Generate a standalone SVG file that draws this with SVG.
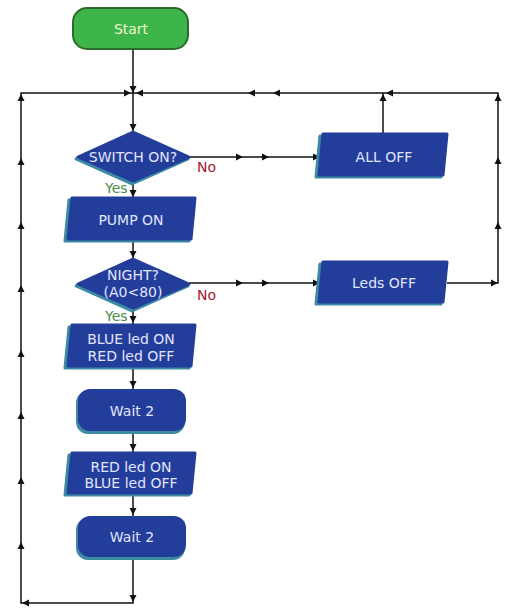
<svg xmlns="http://www.w3.org/2000/svg" xmlns:xlink="http://www.w3.org/1999/xlink" width="516" height="615" viewBox="0 0 516 615">
<style>
.ln{stroke:#111;stroke-width:1.5;fill:none}
.bx{fill:#233e9a;stroke:#233e9a;stroke-width:3;stroke-linejoin:round}
.ed{fill:#3d8aa3;stroke:#3d8aa3;stroke-width:3;stroke-linejoin:round}
.tx{font-family:"DejaVu Sans",Verdana,sans-serif;font-size:14px;fill:#e2e4ff;text-anchor:middle}
.yes{font-family:"DejaVu Sans",Verdana,sans-serif;font-size:14px;fill:#4f8a4a}
.no{font-family:"DejaVu Sans",Verdana,sans-serif;font-size:14px;fill:#a3172f}
</style>
<defs>
<path id="ah" d="M0,0 L-7,-3.5 L-7,3.5 Z" fill="#111"/>
</defs>
<rect width="516" height="615" fill="#fff"/>
<g id="connectors">
<path class="ln" d="M133,50 V603 H21 V93 H498 V283 H447"/>
<path class="ln" d="M189,157 H318 M189,283 H318 M383,133 V93"/>
<!-- main down arrows -->
<use xlink:href="#ah" transform="translate(133,93) rotate(90)"/>
<use xlink:href="#ah" transform="translate(133,131) rotate(90)"/>
<use xlink:href="#ah" transform="translate(133,197) rotate(90)"/>
<use xlink:href="#ah" transform="translate(133,258) rotate(90)"/>
<use xlink:href="#ah" transform="translate(133,323) rotate(90)"/>
<use xlink:href="#ah" transform="translate(133,388) rotate(90)"/>
<use xlink:href="#ah" transform="translate(133,451) rotate(90)"/>
<use xlink:href="#ah" transform="translate(133,515) rotate(90)"/>
<use xlink:href="#ah" transform="translate(133,602) rotate(90)"/>
<!-- bottom left -->
<use xlink:href="#ah" transform="translate(22,603) rotate(180)"/>
<!-- left up arrows -->
<use xlink:href="#ah" transform="translate(21,542) rotate(-90)"/>
<use xlink:href="#ah" transform="translate(21,477) rotate(-90)"/>
<use xlink:href="#ah" transform="translate(21,412) rotate(-90)"/>
<use xlink:href="#ah" transform="translate(21,350) rotate(-90)"/>
<use xlink:href="#ah" transform="translate(21,285) rotate(-90)"/>
<use xlink:href="#ah" transform="translate(21,222) rotate(-90)"/>
<use xlink:href="#ah" transform="translate(21,158) rotate(-90)"/>
<use xlink:href="#ah" transform="translate(21,94) rotate(-90)"/>
<use xlink:href="#ah" transform="translate(131,93)"/>
<!-- top line left arrows -->
<use xlink:href="#ah" transform="translate(136,93) rotate(180)"/>
<use xlink:href="#ah" transform="translate(248,93) rotate(180)"/>
<use xlink:href="#ah" transform="translate(273,93) rotate(180)"/>
<use xlink:href="#ah" transform="translate(386,93) rotate(180)"/>
<!-- ALL OFF up -->
<use xlink:href="#ah" transform="translate(383,94) rotate(-90)"/>
<!-- right line up arrows -->
<use xlink:href="#ah" transform="translate(498,94) rotate(-90)"/>
<use xlink:href="#ah" transform="translate(498,157) rotate(-90)"/>
<use xlink:href="#ah" transform="translate(498,222) rotate(-90)"/>
<use xlink:href="#ah" transform="translate(498,283)"/>
<!-- No lines -->
<use xlink:href="#ah" transform="translate(243,157)"/>
<use xlink:href="#ah" transform="translate(269,157)"/>
<use xlink:href="#ah" transform="translate(320,157)"/>
<use xlink:href="#ah" transform="translate(243,283)"/>
<use xlink:href="#ah" transform="translate(269,283)"/>
<use xlink:href="#ah" transform="translate(320,283)"/>
</g>
<g id="start">
<rect x="73" y="8" width="115" height="41" rx="14" fill="#3db54a" stroke="#2d6b2a" stroke-width="2"/>
<text class="tx" x="131" y="34" style="fill:#eef5c8">Start</text>
</g>
<g id="switch">
<polygon class="ed" points="76,159 132,135 188,159 132,184"/>
<polygon class="bx" points="78,157 133,132 189,157 133,181"/>
<text class="tx" x="133" y="162">SWITCH ON?</text>
<text class="no" x="197" y="172">No</text>
<text class="yes" x="105" y="193">Yes</text>
</g>
<g id="alloff">
<polygon class="ed" points="320,136 445,136 441,177 316,177"/>
<polygon class="bx" points="323,134 447,134 443,175 319,175"/>
<text class="tx" x="384" y="162">ALL OFF</text>
</g>
<g id="pump">
<polygon class="ed" points="69,200 193,200 189,241 65,241"/>
<polygon class="bx" points="72,198 195,198 191,239 68,239"/>
<text class="tx" x="131" y="225">PUMP ON</text>
</g>
<g id="night">
<polygon class="ed" points="76,286 132,262 188,286 132,311"/>
<polygon class="bx" points="78,284 133,259 189,284 133,308"/>
<text class="tx" x="133" y="280">NIGHT?</text>
<text class="tx" x="133" y="297">(A0&lt;80)</text>
<text class="no" x="197" y="300">No</text>
<text class="yes" x="105" y="321">Yes</text>
</g>
<g id="ledsoff">
<polygon class="ed" points="320,264 445,264 441,304 316,304"/>
<polygon class="bx" points="323,262 447,262 443,302 319,302"/>
<text class="tx" x="384" y="288">Leds OFF</text>
</g>
<g id="blueon">
<polygon class="ed" points="69,327 193,327 189,368 65,368"/>
<polygon class="bx" points="72,325 195,325 191,366 68,366"/>
<text class="tx" x="131" y="344">BLUE led ON</text>
<text class="tx" x="131" y="361">RED led OFF</text>
</g>
<g id="wait1">
<rect x="76" y="391" width="109" height="43" rx="12" fill="#3d8aa3"/>
<rect x="78" y="389" width="108" height="42" rx="12" fill="#233e9a"/>
<text class="tx" x="132" y="416">Wait 2</text>
</g>
<g id="redon">
<polygon class="ed" points="69,455 193,455 189,495 65,495"/>
<polygon class="bx" points="72,453 195,453 191,493 68,493"/>
<text class="tx" x="131" y="472">RED led ON</text>
<text class="tx" x="131" y="488">BLUE led OFF</text>
</g>
<g id="wait2">
<rect x="76" y="518" width="109" height="42" rx="12" fill="#3d8aa3"/>
<rect x="78" y="516" width="108" height="41" rx="12" fill="#233e9a"/>
<text class="tx" x="132" y="542">Wait 2</text>
</g>
</svg>
